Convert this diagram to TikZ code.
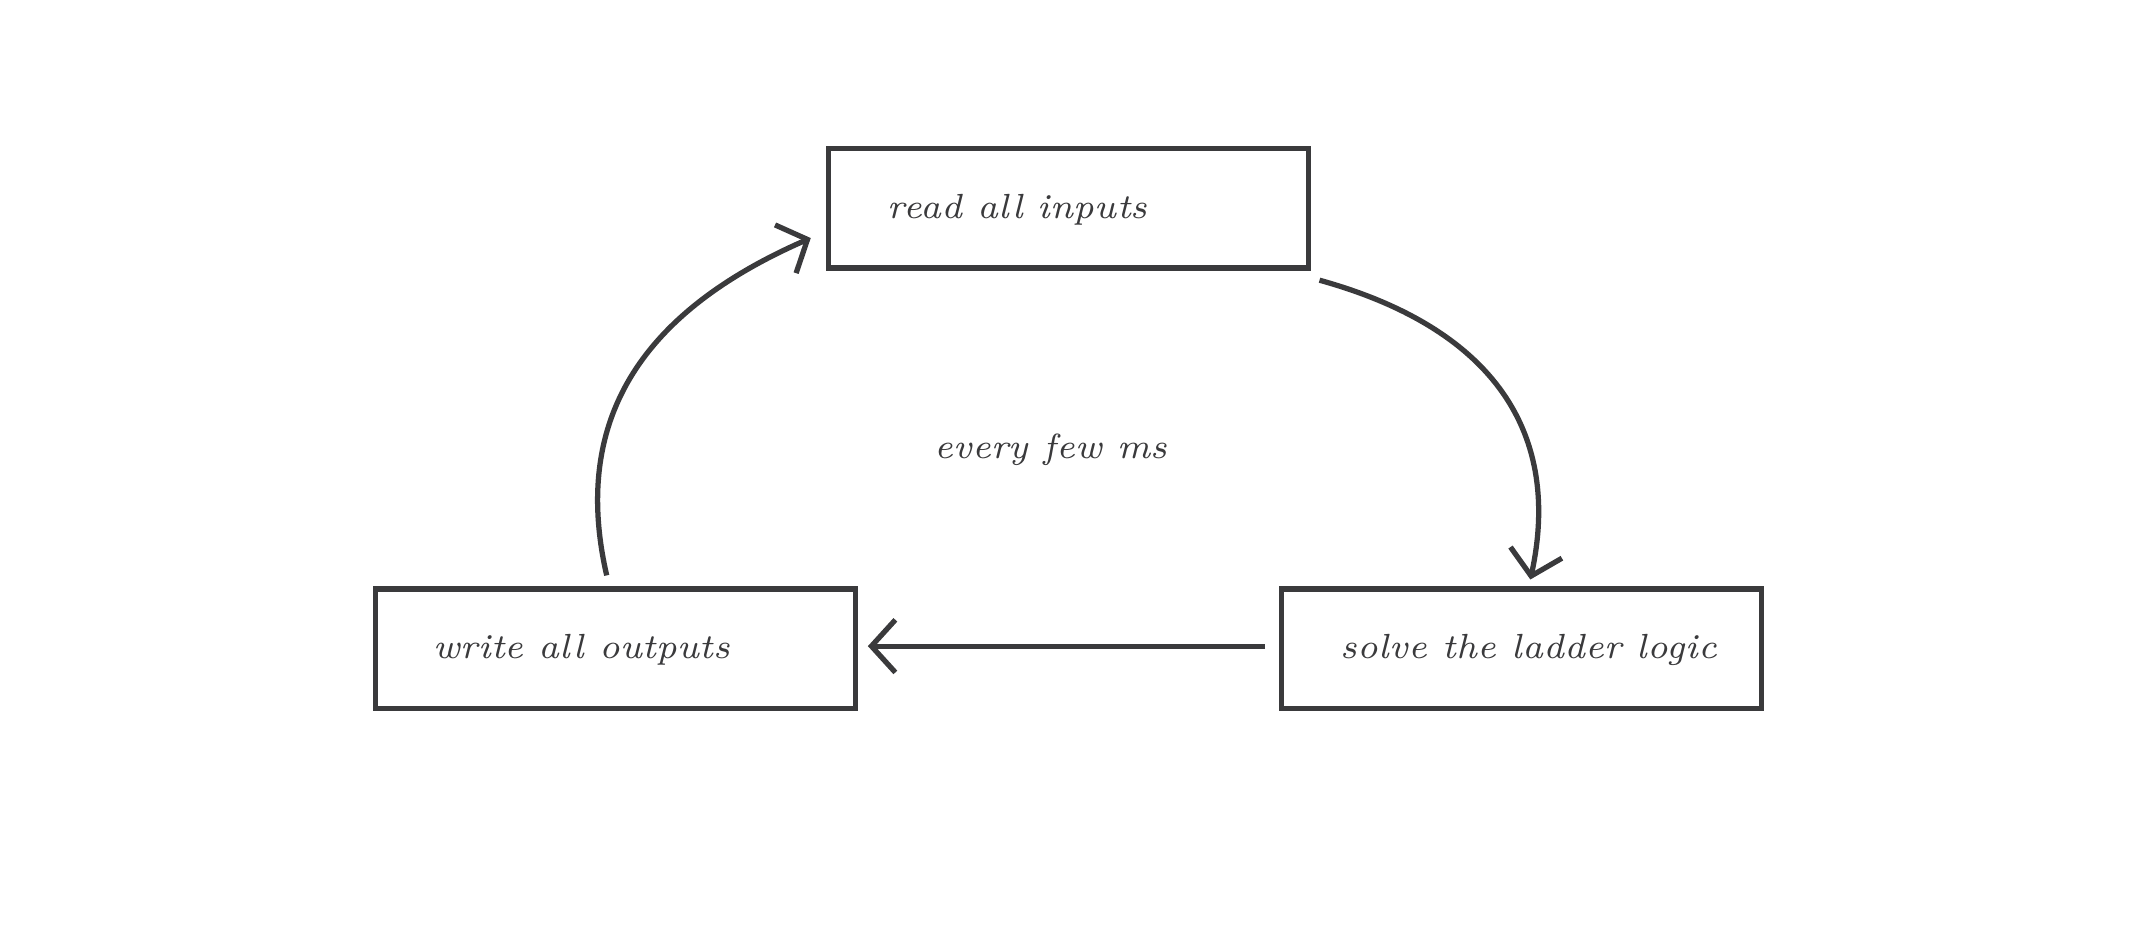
\documentclass[tikz,border=0pt]{standalone}
\usetikzlibrary{arrows.meta}
\definecolor{ink}{HTML}{3A3A3C}
\begin{document}
\begin{tikzpicture}[x=0.01cm,y=-0.01cm,
  box/.style={draw=ink,line width=1.1pt,minimum width=3.53cm,minimum height=0.88cm,anchor=north west,inner sep=0},
  lbl/.style={text=ink,font=\fontsize{7.3}{9}\selectfont\itshape,anchor=west,inner sep=0},
  arr/.style={draw=ink,line width=1.1pt,-{Straight Barb[length=5pt,width=11pt,line width=1.1pt]}}]
\useasboundingbox (0,0) rectangle (1568,686);
\node[box] (read) at (607,107) {};
\node[box] (write) at (274,431) {};
\node[box] (solve) at (940,431) {};
\node[lbl] (t1) at (652,154) {read all inputs};
\node[lbl] (t2) at (318,478) {write all outputs};
\node[lbl] (t3) at (985,478) {solve the ladder logic};
\node[lbl] (t4) at (686,331) {every few ms};
\coordinate (a1) at (970,206);
\coordinate (a2) at (1125,426);
\coordinate (b1) at (446,423);
\coordinate (b2) at (596,175);
\coordinate (c1) at (930,475);
\coordinate (c2) at (638,475);
\draw[arr] (a1) .. controls (1100,242) and (1148,320) .. (a2);
\draw[arr] (b1) .. controls (420,310) and (470,230) .. (b2);
\draw[arr] (c1) -- (c2);
\end{tikzpicture}
\end{document}
